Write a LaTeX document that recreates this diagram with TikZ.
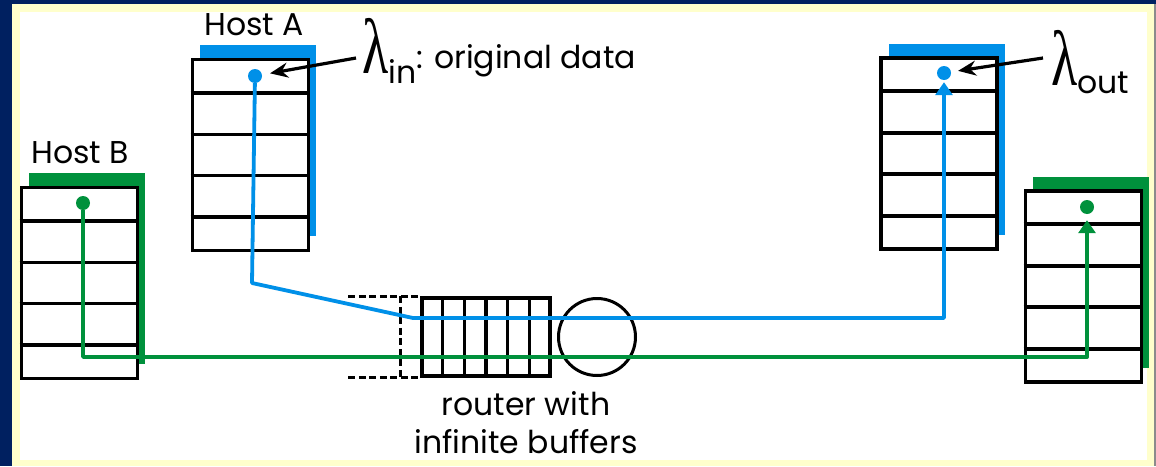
\documentclass[tikz,border=0pt]{standalone}
\usepackage{fontspec}
\setmainfont{Poppins}
\newfontfamily\greekfont{Liberation Serif}
\usetikzlibrary{positioning,arrows.meta,calc,shadows}

\definecolor{navy}{RGB}{0,32,96}
\definecolor{cream}{RGB}{255,255,204}
\definecolor{flowblue}{RGB}{0,144,232}
\definecolor{flowgreen}{RGB}{0,145,60}

\begin{document}
\begin{tikzpicture}[
  x=1pt, y=-1pt,
  font=\fontsize{31.5}{38}\selectfont,
  host/.style={rectangle, draw=black, line width=3.6pt, fill=white, inner sep=0pt,
               minimum width=116pt, minimum height=191pt,
               general shadow={fill=#1, shadow xshift=7.5pt, shadow yshift=14.5pt}},
  dot/.style={circle, inner sep=0pt, minimum size=14pt},
  flow/.style={line width=3.8pt, line join=round},
  tip/.style={-{Triangle[length=13pt,width=17pt]}},
  ptr/.style={-{Stealth[length=18pt,width=15pt,inset=6pt]}, line width=3.2pt},
  spare/.style={line width=3pt, dash pattern=on 7pt off 3.5pt}
]
% frame
\fill[navy] (0,0) rectangle (1156,466);
\fill[cream] (12,4) rectangle (1154,466);
\fill[black!45] (1154,4) rectangle (1156,466);
\fill[white] (20,12) rectangle (1147,460);
\useasboundingbox (0,0) rectangle (1156,466);

% hosts
\node[host=flowblue]  (hostA) at (250.5,155)  {};
\node[host=flowgreen] (hostB) at (79.5,283)   {};
\node[host=flowblue]  (sinkA) at (939,153.5)  {};
\node[host=flowgreen] (sinkB) at (1083.5,286.5) {};
\foreach \h in {hostA,hostB,sinkA,sinkB}
  \foreach \k in {0.18,0.395,0.605,0.82}
    \draw[line width=3.6pt] ($(\h.north west)!\k!(\h.south west)$) -- ($(\h.north east)!\k!(\h.south east)$);

\node (labA) at (254,25)  {Host A};
\node (labB) at (80,153)  {Host B};

% router
\node[rectangle, draw, line width=3.2pt, minimum width=128pt, minimum height=78pt, inner sep=0pt] (buf) at (486,337) {};
\foreach \k in {1,...,5}
  \draw[line width=3.2pt] ($(buf.north west)!\k/6!(buf.north east)$) -- ($(buf.south west)!\k/6!(buf.south east)$);
\draw[spare] ([xshift=-72pt]buf.north west) -- (buf.north west);
\draw[spare] ([xshift=-72pt]buf.south west) -- (buf.south west);
\draw[spare] ([xshift=-20pt]buf.north west) -- ([xshift=-20pt]buf.south west);
\node[circle, draw, line width=3pt, minimum size=77pt, inner sep=0pt] (link) at (597,337) {};
\node[align=center] (rlabel) at (526,423) {router with\\infinite buffers};

% flows
\node[dot, fill=flowblue]  (dotA) at (255,76)  {};
\node[dot, fill=flowgreen] (dotB) at (83,203)  {};
\node[dot, fill=flowblue]  (outA) at (944,73)  {};
\node[dot, fill=flowgreen] (outB) at (1087,207) {};
\coordinate (bendA1) at (252,283);
\coordinate (bendA2) at (413,318);
\coordinate (bendB)  at (83,357);
\draw[flow, flowblue, tip, shorten >=2pt] (dotA) -- (bendA1) -- (bendA2) -| (outA);
\draw[flow, flowgreen, tip, shorten >=6pt] (dotB) -- (bendB) -| (outB);

% rates
\node[anchor=base west, inner sep=0pt] (lamin) at (362,73)
  {{\greekfont\fontsize{54}{54}\selectfont\scalebox{1}[1.45]{λ}}\raisebox{-10pt}{in}\raisebox{5pt}{: original data}};
\node[anchor=base west, inner sep=0pt] (lamout) at (1051,85)
  {{\greekfont\fontsize{54}{54}\selectfont\scalebox{1}[1.45]{λ}}\raisebox{-8pt}{out}};
\coordinate (lamintail)  at (356,58);
\coordinate (lamouttail) at (1043,58);
\draw[ptr, shorten >=8pt] (lamintail) -- (dotA);
\draw[ptr, shorten >=7pt] (lamouttail) -- (outA);
\end{tikzpicture}
\end{document}
